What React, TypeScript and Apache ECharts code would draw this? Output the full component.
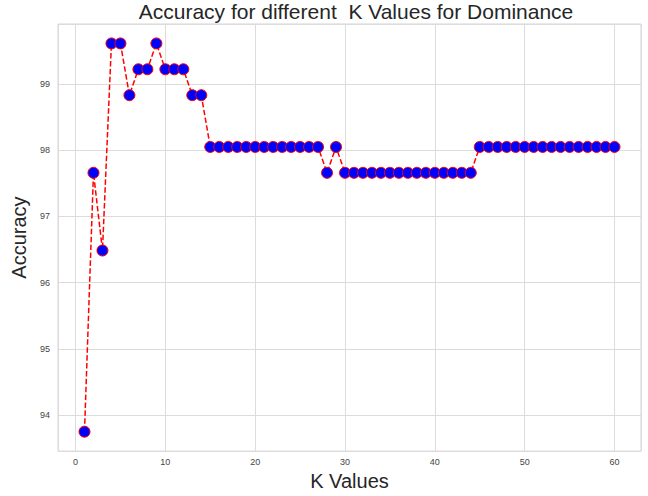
import React, { useEffect, useRef } from "react";
import * as echarts from "echarts";

const kValues: number[] = [
  1, 2, 3, 4, 5, 6, 7, 8, 9, 10,
  11, 12, 13, 14, 15, 16, 17, 18, 19, 20,
  21, 22, 23, 24, 25, 26, 27, 28, 29, 30,
  31, 32, 33, 34, 35, 36, 37, 38, 39, 40,
  41, 42, 43, 44, 45, 46, 47, 48, 49, 50,
  51, 52, 53, 54, 55, 56, 57, 58, 59, 60,
];

const accuracy: number[] = [
  93.75, 97.656, 96.484, 99.609, 99.609, 98.828, 99.219, 99.219, 99.609, 99.219,
  99.219, 99.219, 98.828, 98.828, 98.047, 98.047, 98.047, 98.047, 98.047, 98.047,
  98.047, 98.047, 98.047, 98.047, 98.047, 98.047, 98.047, 97.656, 98.047, 97.656,
  97.656, 97.656, 97.656, 97.656, 97.656, 97.656, 97.656, 97.656, 97.656, 97.656,
  97.656, 97.656, 97.656, 97.656, 98.047, 98.047, 98.047, 98.047, 98.047, 98.047,
  98.047, 98.047, 98.047, 98.047, 98.047, 98.047, 98.047, 98.047, 98.047, 98.047,
];

const titleText = "Accuracy for different  K Values for Dominance";
const xName = "K Values";
const yName = "Accuracy";

const FONT = "'Liberation Sans', Arial, sans-serif";
const TEXT = "#262626";
const GRIDC = "#dcdcdc";

function pad(min: number, max: number) {
  const r = max - min;
  return [min - 0.05 * r, max + 0.05 * r];
}

const intLabel = (v: number) =>
  Math.abs(v - Math.round(v)) < 1e-6 ? String(Math.round(v)) : "";

export default function App() {
  const ref = useRef<HTMLDivElement>(null);
  useEffect(() => {
    if (!ref.current) return;
    const chart = echarts.init(ref.current, null, { renderer: "svg" });
    const [xMin, xMax] = pad(Math.min(...kValues), Math.max(...kValues));
    const [yMin, yMax] = pad(Math.min(...accuracy), Math.max(...accuracy));
    chart.setOption({
      animation: false,
      backgroundColor: "#ffffff",
      title: {
        text: titleText,
        left: 351,
        textAlign: "center",
        top: -4,
        textStyle: { fontFamily: FONT, fontSize: 21, fontWeight: "normal", color: TEXT },
      },
      grid: {
        left: 58,
        right: 7,
        top: 24,
        bottom: 39,
        show: true,
        borderColor: "#d4d4d4",
        borderWidth: 1,
        backgroundColor: "#ffffff",
      },
      xAxis: {
        type: "value",
        min: xMin,
        max: xMax,
        minInterval: 10,
        maxInterval: 10,
        name: xName,
        nameLocation: "middle",
        nameGap: 19,
        nameTextStyle: { fontFamily: FONT, fontSize: 20, color: TEXT },
        axisLine: { show: false },
        axisTick: { show: false },
        axisLabel: { formatter: intLabel, fontFamily: FONT, fontSize: 9, color: "#444", margin: 6 },
        splitLine: { show: true, lineStyle: { color: GRIDC, width: 1 } },
      },
      yAxis: {
        type: "value",
        min: yMin,
        max: yMax,
        minInterval: 1,
        maxInterval: 1,
        name: yName,
        nameLocation: "middle",
        nameGap: 27,
        nameTextStyle: { fontFamily: FONT, fontSize: 20, color: TEXT },
        axisLine: { show: false },
        axisTick: { show: false },
        axisLabel: { formatter: intLabel, fontFamily: FONT, fontSize: 9, color: "#444", margin: 8 },
        splitLine: { show: true, lineStyle: { color: GRIDC, width: 1 } },
      },
      series: [
        {
          type: "line",
          data: kValues.map((k, i) => [k, accuracy[i]]),
          symbol: "circle",
          symbolSize: 11,
          showAllSymbol: true,
          lineStyle: { color: "#ff0000", width: 1.5, type: [5.5, 2.4] },
          itemStyle: { color: "#0000ff", borderColor: "#ff0000", borderWidth: 1 },
          z: 3,
        },
      ],
    });
    return () => chart.dispose();
  }, []);
  return (
    <div
      ref={ref}
      style={{ position: "fixed", left: 0, top: 0, width: 648, height: 496 }}
    />
  );
}
